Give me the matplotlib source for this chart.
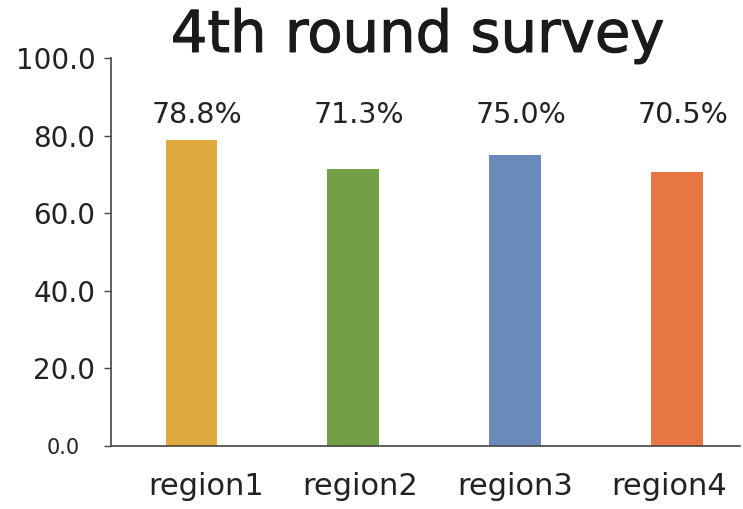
import matplotlib.pyplot as plt
import matplotlib.patheffects as pe
from matplotlib.transforms import ScaledTranslation

regions = ['region1', 'region2', 'region3', 'region4']
rates = [78.8, 71.3, 75.0, 70.5]
colors = ['#E0AA3E', '#73A046', '#6A8ABA', '#E77644']
yticks = [0, 20, 40, 60, 80, 100]

plt.rcParams['font.family'] = ['DejaVu Sans']

fig = plt.figure(figsize=(7.43, 5.09), dpi=100)
ax = fig.add_axes([0.149, 0.124, 0.847, 0.762])

x = range(len(regions))
ax.bar(x, rates, width=0.32, color=colors)

# value labels sit on one line above the bars
for i, v in enumerate(rates):
    ax.text(i + 0.035, 85.3, f'{v:.1f}%', ha='center', va='center', fontsize=20.5, color='#222222')

ax.set_xlim(-0.5, 3.39)
ax.set_ylim(0, 100)
ax.set_yticks(yticks)
ax.set_yticklabels([f'{t:.1f}' for t in yticks], fontsize=20, color='#222222')
ax.set_xticks(list(x))
ax.set_xticklabels(regions, fontsize=22, color='#222222')
ax.tick_params(axis='x', length=0, pad=19)
ax.tick_params(axis='y', length=5, width=1, color='#444444', pad=6)

# the zero label is smaller and sits further left in the original
zero = ax.get_yticklabels()[0]
zero.set_fontsize(15)
zero.set_transform(zero.get_transform() + ScaledTranslation(-0.16, 0, fig.dpi_scale_trans))

# category labels in the original are spaced a little tighter than the bars
shifts = [15, 7, 0, -8]
for lab, dx in zip(ax.get_xticklabels(), shifts):
    lab.set_transform(lab.get_transform() + ScaledTranslation(dx / 100, 0, fig.dpi_scale_trans))

for s in ['top', 'right']:
    ax.spines[s].set_visible(False)
for s in ['left', 'bottom']:
    ax.spines[s].set_color('#444444')
    ax.spines[s].set_linewidth(1.2)

fig.text(0.562, 0.898, '4th round survey', ha='center', va='baseline', fontsize=41.5, color='#1a1a1a',
         path_effects=[pe.withStroke(linewidth=0.8, foreground='#1a1a1a')])

fig.savefig('out.png', dpi=100)
